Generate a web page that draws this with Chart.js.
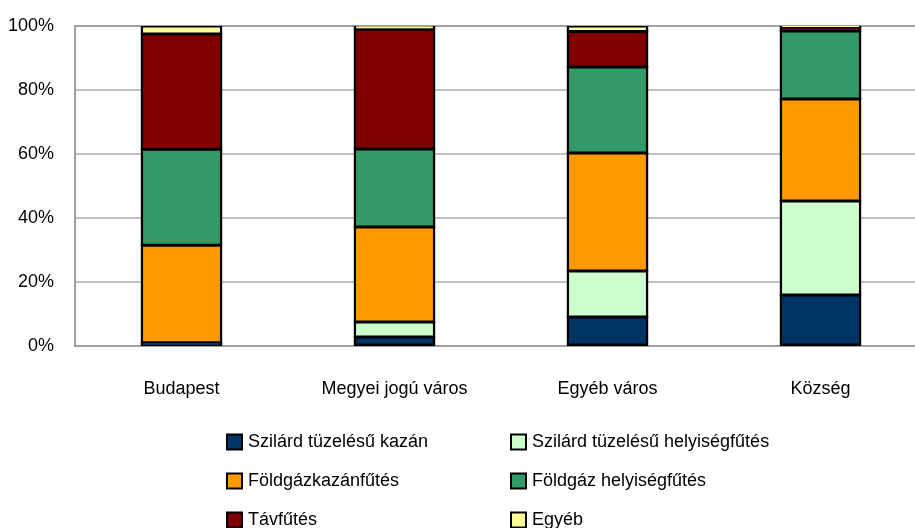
<!DOCTYPE html>
<html>
<head>
<meta charset="utf-8">
<script src="https://cdn.jsdelivr.net/npm/chart.js@4/dist/chart.umd.min.js"></script>
<style>
html,body{margin:0;padding:0;overflow:hidden;background:#fff;}
#wrap{width:930px;height:528px;position:relative;}
</style>
</head>
<body>
<div id="wrap"><canvas id="c"></canvas></div>
<script>
const categories = ["Budapest", "Megyei jogú város", "Egyéb város", "Község"];
const seriesNames = ["Szilárd tüzelésű kazán", "Szilárd tüzelésű helyiségfűtés", "Földgázkazánfűtés", "Földgáz helyiségfűtés", "Távfűtés", "Egyéb"];
const szilardKazan = [1.0, 2.8, 9.1, 15.9];
const szilardHelyiseg = [0, 4.7, 14.3, 29.4];
const foldgazKazan = [30.5, 29.7, 36.9, 31.9];
const foldgazHelyiseg = [30.0, 24.4, 26.9, 21.2];
const tavfutes = [36.0, 37.4, 11.1, 1.0];
const egyeb = [2.5, 1.0, 1.7, 0.6];
const yTicks = [0, 20, 40, 60, 80, 100];

const colors = ["#003366", "#CCFFCC", "#FF9900", "#339966", "#800000", "#FFFF99"];
const values = [szilardKazan, szilardHelyiseg, foldgazKazan, foldgazHelyiseg, tavfutes, egyeb];

const FONT = {family: "'Liberation Sans', Arial, sans-serif", size: 18};

const legendPlugin = {
  id: 'gridLegend',
  afterDraw(chart) {
    const ctx = chart.ctx;
    const colX = [227, 511];
    const rowY = [442, 481, 520];
    ctx.save();
    ctx.font = FONT.size + "px " + FONT.family;
    ctx.textBaseline = 'middle';
    ctx.textAlign = 'left';
    chart.data.datasets.forEach((ds, i) => {
      const x = colX[i % 2], y = rowY[Math.floor(i / 2)];
      ctx.fillStyle = ds.backgroundColor;
      ctx.fillRect(x, y - 7.5, 15, 15);
      ctx.lineWidth = 2;
      ctx.strokeStyle = '#000';
      ctx.strokeRect(x, y - 7.5, 15, 15);
      ctx.fillStyle = '#000';
      ctx.fillText(ds.label, x + 21, y);
    });
    ctx.restore();
  }
};

new Chart(document.getElementById('c'), {
  type: 'bar',
  data: {
    labels: categories,
    datasets: seriesNames.map((name, i) => ({
      label: name,
      data: values[i],
      backgroundColor: colors[i],
      borderColor: '#000',
      borderWidth: 2.5,
      borderSkipped: false,
      inflateAmount: 1,
      barPercentage: 0.375,
      categoryPercentage: 1
    }))
  },
  options: {
    responsive: true,
    maintainAspectRatio: false,
    animation: false,
    layout: {padding: {left: 0, top: 26, right: 3, bottom: 0}},
    plugins: {legend: {display: false}, tooltip: {enabled: false}},
    scales: {
      x: {
        stacked: true,
        grid: {display: false, drawTicks: false},
        border: {color: '#a0a0a0', width: 2},
        ticks: {color: '#000', font: FONT, padding: 32, maxRotation: 0},
        afterFit(s) { s.height = 182; s.paddingTop = 0; s.paddingBottom = 0; }
      },
      y: {
        stacked: true,
        min: 0, max: 100,
        afterBuildTicks(s) { s.ticks = yTicks.map(v => ({value: v})); },
        ticks: {color: '#000', font: FONT, padding: 21, callback: v => v + '%'},
        grid: {drawTicks: false, lineWidth: 2, color: ctx => (ctx.tick && ctx.tick.value === 100) ? '#a0a0a0' : '#c0c0c0'},
        border: {color: '#a0a0a0', width: 2},
        afterFit(s) { s.width = 75; s.paddingTop = 0; s.paddingBottom = 0; }
      }
    }
  },
  plugins: [legendPlugin]
});
</script>
</body>
</html>
